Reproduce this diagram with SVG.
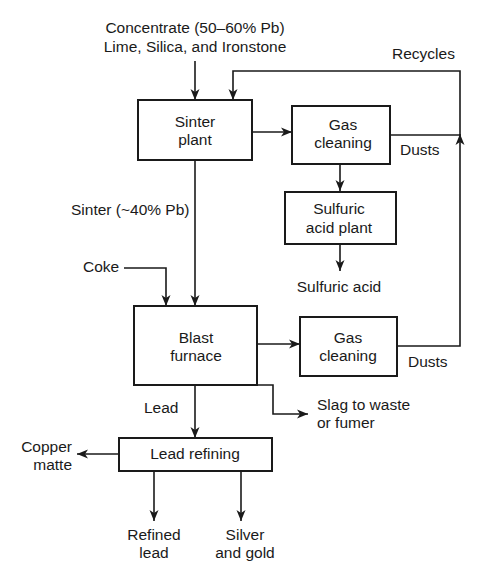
<svg xmlns="http://www.w3.org/2000/svg" width="491" height="571" viewBox="0 0 491 571">
<defs>
<marker id="ah" markerUnits="userSpaceOnUse" markerWidth="12" markerHeight="10" refX="11" refY="5" orient="auto">
<path d="M0,0.5 L11,5 L0,9.5 L3,5 z" fill="#1a1a1a"/>
</marker>
<style>
text{font-family:"Liberation Sans",Arial,sans-serif;font-size:15.5px;fill:#1a1a1a}
.m{text-anchor:middle}
.e{text-anchor:end}
rect{fill:#fff;stroke:#1a1a1a;stroke-width:2}
.c path{fill:none;stroke:#1a1a1a;stroke-width:1.6}
.a{marker-end:url(#ah)}
</style>
</defs>
<rect x="0" y="0" width="491" height="571" style="fill:#fff;stroke:none"/>
<g class="c" id="connectors">
<path class="a" d="M195,61 V100"/>
<path class="a" d="M397,346 H460 V134"/>
<path class="a" d="M460,136 V71 H233 V100"/>
<path d="M390,135 H460"/>
<path class="a" d="M252,132 H292"/>
<path class="a" d="M340,164 V191"/>
<path class="a" d="M340,244 V271"/>
<path class="a" d="M195,160 V306"/>
<path class="a" d="M124,268 H166 V306"/>
<path class="a" d="M257,344 H300"/>
<path class="a" d="M195,385 V438"/>
<path class="a" d="M257,385 H273 V414 H308"/>
<path class="a" d="M119,454 H77"/>
<path class="a" d="M154,471 V521"/>
<path class="a" d="M241,471 V521"/>
</g>
<g id="feed">
<text class="m" x="195" y="33">Concentrate (50–60% Pb)</text>
<text class="m" x="195" y="52">Lime, Silica, and Ironstone</text>
</g>
<g id="sinter-plant">
<rect x="138" y="100" width="114" height="60"/>
<text class="m" x="195" y="127">Sinter</text>
<text class="m" x="195" y="145">plant</text>
</g>
<g id="gas-cleaning-1">
<rect x="292" y="106" width="98" height="58"/>
<text class="m" x="343" y="130">Gas</text>
<text class="m" x="343" y="148">cleaning</text>
</g>
<g id="sulfuric-acid-plant">
<rect x="285" y="192" width="111" height="52"/>
<text class="m" x="339" y="214">Sulfuric</text>
<text class="m" x="339" y="233">acid plant</text>
</g>
<g id="blast-furnace">
<rect x="134" y="306" width="123" height="79"/>
<text class="m" x="196" y="343">Blast</text>
<text class="m" x="196" y="361">furnace</text>
</g>
<g id="gas-cleaning-2">
<rect x="300" y="317" width="97" height="59"/>
<text class="m" x="348" y="343">Gas</text>
<text class="m" x="348" y="361">cleaning</text>
</g>
<g id="lead-refining">
<rect x="119" y="438" width="153" height="33"/>
<text class="m" x="195" y="459">Lead refining</text>
</g>
<g id="labels">
<text x="392" y="59">Recycles</text>
<text x="400" y="155">Dusts</text>
<text x="408" y="367">Dusts</text>
<text class="m" x="339" y="292">Sulfuric acid</text>
<text x="71" y="215">Sinter (~40% Pb)</text>
<text x="83" y="272">Coke</text>
<text x="144" y="413">Lead</text>
<text x="317" y="410">Slag to waste</text>
<text x="317" y="428">or fumer</text>
<text class="e" x="72" y="452">Copper</text>
<text class="e" x="72" y="470">matte</text>
<text class="m" x="154" y="540">Refined</text>
<text class="m" x="154" y="558">lead</text>
<text class="m" x="245" y="540">Silver</text>
<text class="m" x="245" y="558">and gold</text>
</g>
</svg>
